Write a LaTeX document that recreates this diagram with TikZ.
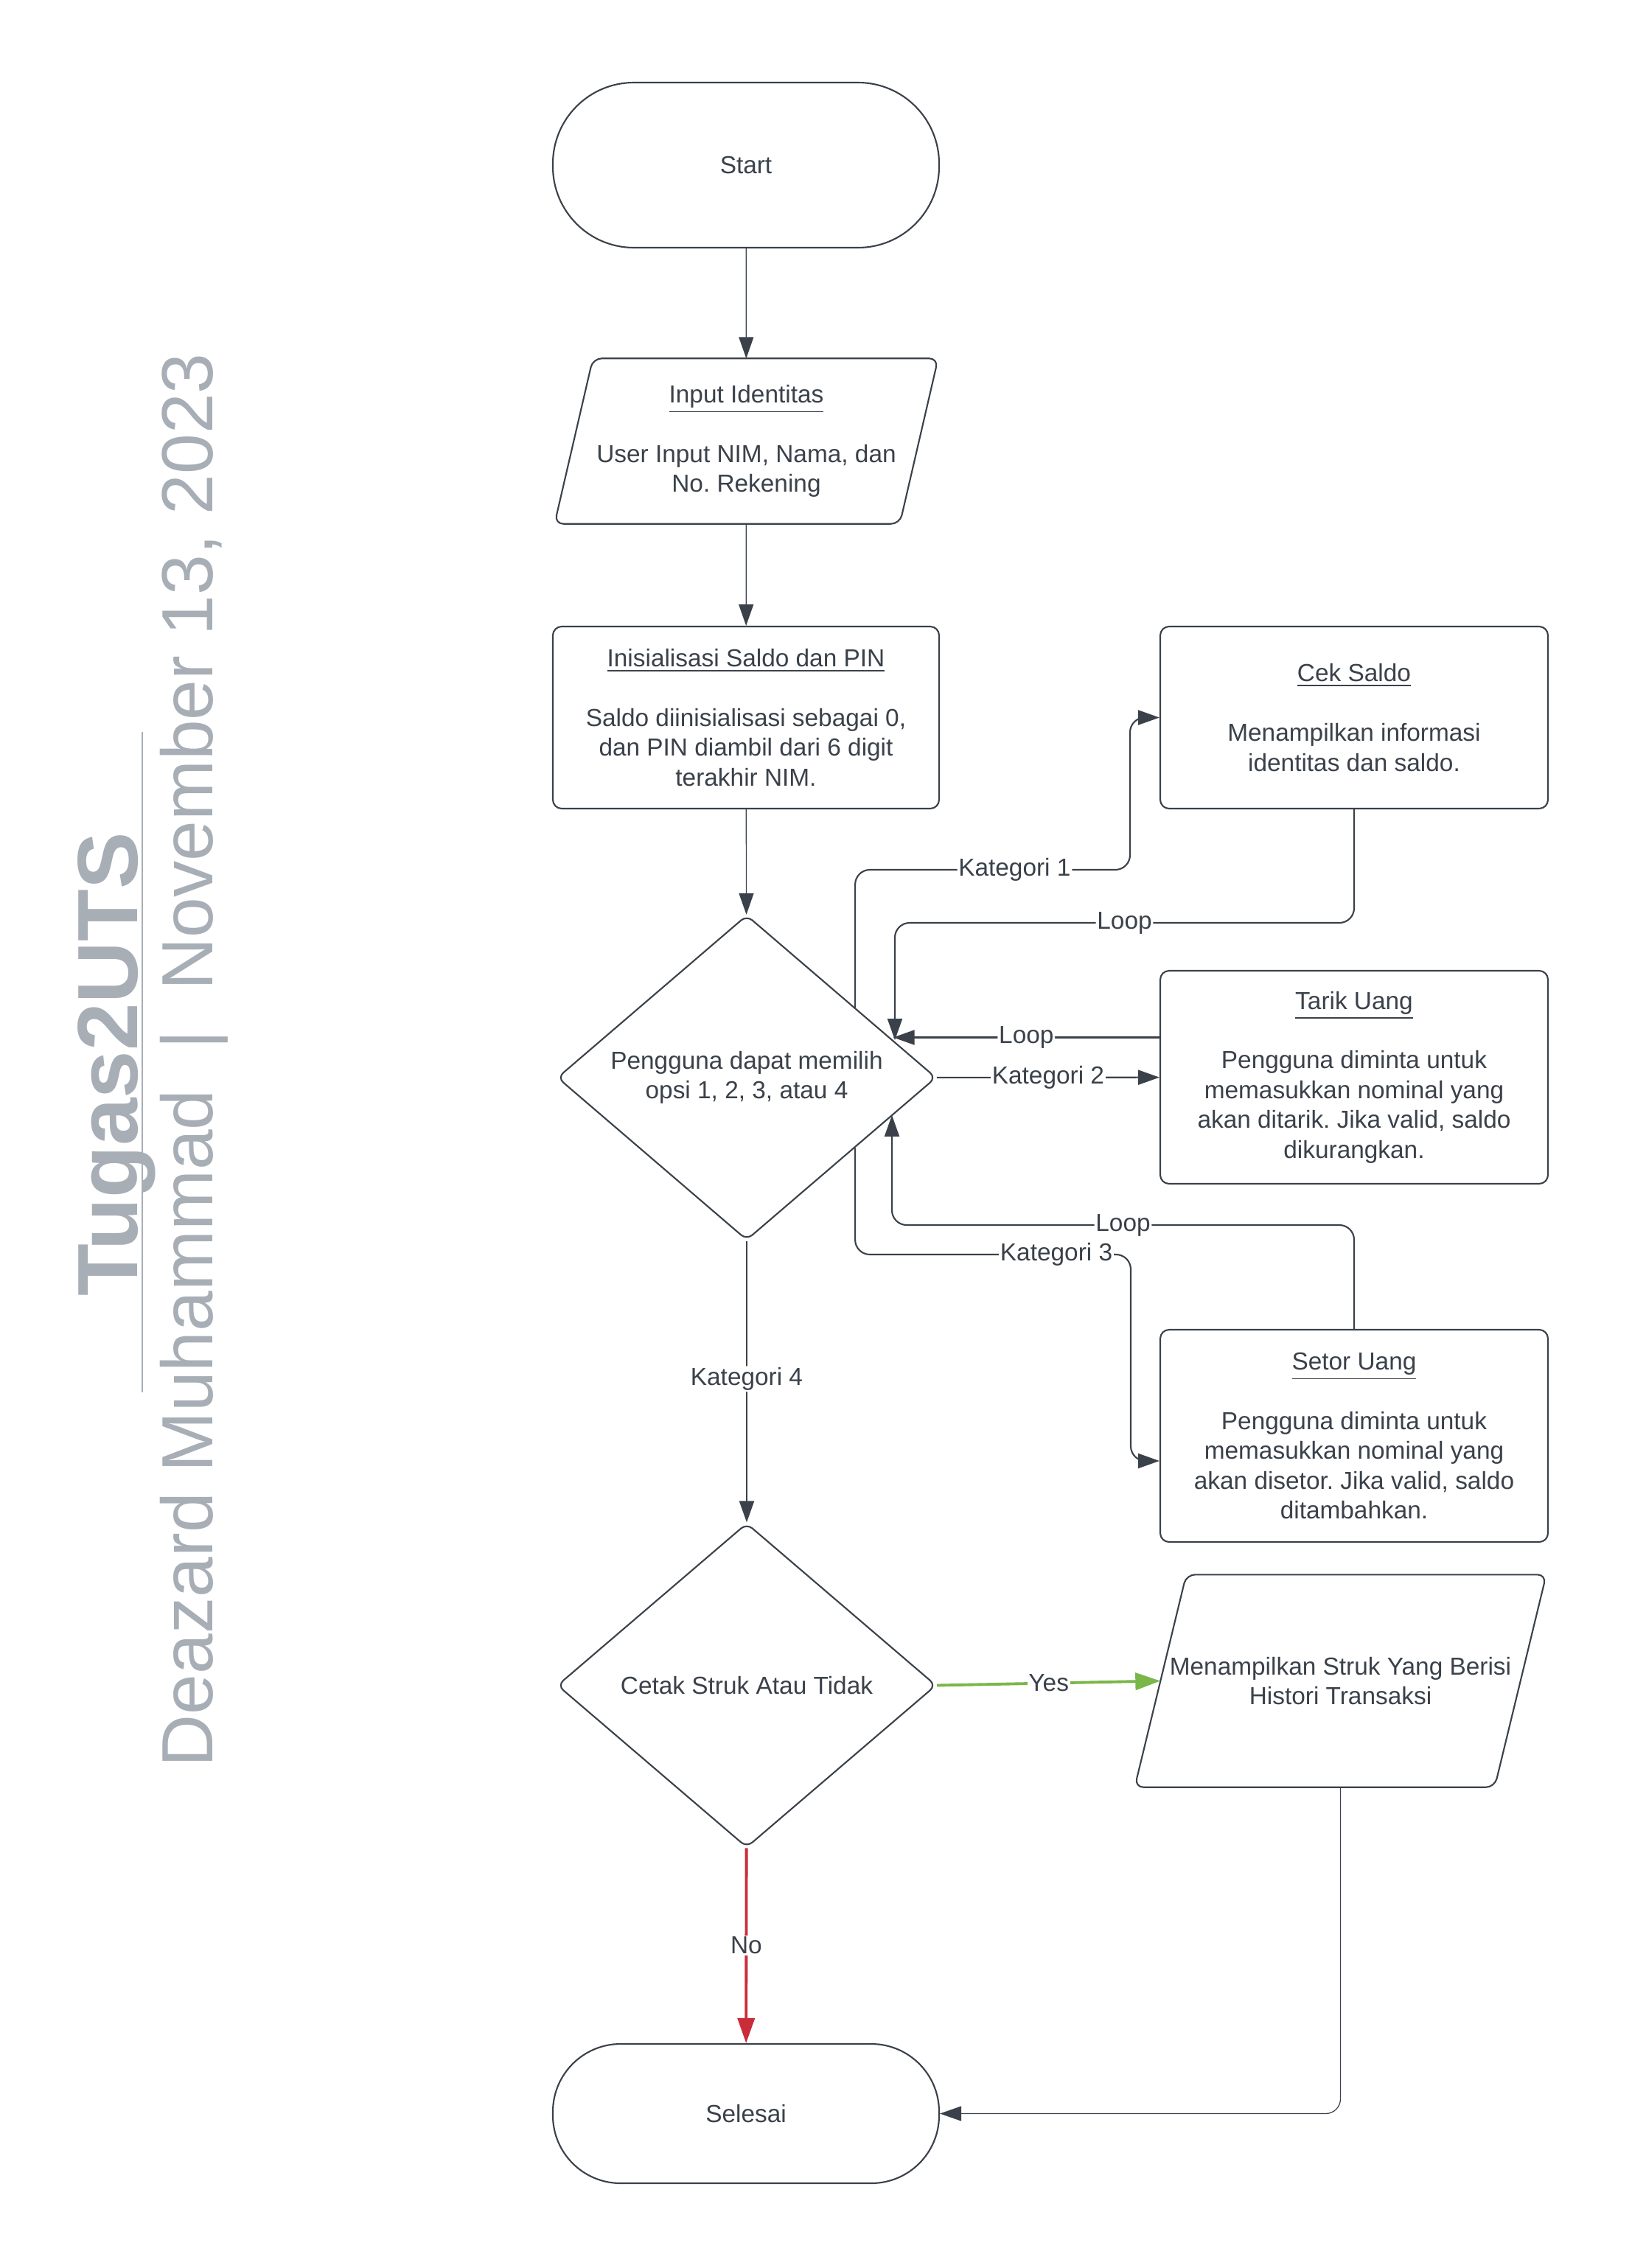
\documentclass[tikz,border=0pt]{standalone}
\usepackage{fontspec}
\setmainfont{Liberation Sans}
\frenchspacing
\usetikzlibrary{arrows.meta,calc,shapes.geometric}
\definecolor{ink}{HTML}{3A414A}
\definecolor{titlegray}{HTML}{A8AEB6}
\definecolor{yesgreen}{HTML}{7AB648}
\definecolor{nored}{HTML}{C92D39}
\newcommand\boxfont{\fontsize{9.5}{11.5}\selectfont}
\tikzset{
  base/.style={draw=ink,line width=0.6pt,fill=white,text=ink,font=\boxfont,align=center},
  term/.style={base,rectangle,minimum width=5.24cm,rounded corners=1.1cm},
  io/.style={rectangle,text=ink,font=\boxfont,align=center,inner sep=1pt},
  ioline/.style={draw=ink,line width=0.6pt,rounded corners=1.2mm},
  proc/.style={base,rectangle,rounded corners=1.2mm,minimum width=5.26cm},
  dec/.style={base,diamond,minimum width=5.14cm,minimum height=4.40cm,inner sep=0pt,rounded corners=1mm},
  conn/.style={draw=ink,line width=0.6pt,-{Triangle[length=2.9mm,width=2mm]},rounded corners=2mm},
  thinconn/.style={conn,line width=0.35pt},
  yesline/.style={draw=yesgreen,line width=1.1pt,-{Triangle[length=3.4mm,width=2.3mm]}},
  noline/.style={draw=nored,line width=1.1pt,-{Triangle[length=3.4mm,width=2.3mm]}},
  lbl/.style={fill=white,text=ink,font=\boxfont,inner sep=0.5pt},
}
\begin{document}
\begin{tikzpicture}
\useasboundingbox (0,0) rectangle (22.14,-30.77);
\node[rotate=90,anchor=base,text=titlegray,font=\fontsize{33}{38}\selectfont\bfseries] (title) at (1.86,-14.44) {Tugas2UTS};
\node[rotate=90,anchor=base,text=titlegray,font=\fontsize{28}{32}\selectfont] (subtitle) at (2.88,-14.38) {Deazard Muhammad~~|~~November 13, 2023};
\draw[titlegray,line width=0.85pt] (1.93,-9.93)--(1.93,-18.89);
\node[term,minimum height=2.24cm] (start) at (10.12,-2.24) {Start};
\node[io,minimum width=5.19cm,minimum height=2.23cm] (input) at (10.125,-5.985) {\underline{Input Identitas}\\[\baselineskip]User Input NIM, Nama, dan\\No. Rekening};
\draw[ioline] (input.south west)--($(input.north west)+(0.52,0)$)--(input.north east)--($(input.south east)+(-0.52,0)$)--cycle;
\node[proc,minimum width=5.24cm,minimum height=2.47cm] (init) at (10.12,-9.735) {\underline{Inisialisasi Saldo dan PIN}\\[\baselineskip]Saldo diinisialisasi sebagai 0,\\dan PIN diambil dari 6 digit\\terakhir NIM.};
\node[dec] (pilih) at (10.13,-14.62) {Pengguna dapat memilih\\opsi 1, 2, 3, atau 4};
\node[dec] (cetak) at (10.13,-22.865) {Cetak Struk Atau Tidak};
\node[term,minimum height=1.89cm,rounded corners=0.92cm] (selesai) at (10.12,-28.675) {Selesai};
\node[proc,minimum height=2.47cm] (cek) at (18.37,-9.735) {\underline{Cek Saldo}\\[\baselineskip]Menampilkan informasi\\identitas dan saldo.};
\node[proc,minimum height=2.89cm] (tarik) at (18.37,-14.615) {\underline{Tarik Uang}\\[\baselineskip]Pengguna diminta untuk\\memasukkan nominal yang\\akan ditarik. Jika valid, saldo\\dikurangkan.};
\node[proc,minimum height=2.88cm] (setor) at (18.37,-19.48) {\underline{Setor Uang}\\[\baselineskip]Pengguna diminta untuk\\memasukkan nominal yang\\akan disetor. Jika valid, saldo\\ditambahkan.};
\node[io,minimum width=5.57cm,minimum height=2.87cm] (struk) at (18.185,-22.805) {Menampilkan Struk Yang Berisi\\Histori Transaksi};
\draw[ioline] (struk.south west)--($(struk.north west)+(0.70,0)$)--(struk.north east)--($(struk.south east)+(-0.70,0)$)--cycle;
\coordinate (inputtop) at (input.north);
\coordinate (strukin) at ($(struk.west)+(0.35,0)$);
\coordinate (k1) at ($(pilih.north)!0.57!(pilih.east)$);
\coordinate (hitA) at ($(pilih.north)!0.77!(pilih.east)$);
\coordinate (hitB) at ($(pilih.east)!0.23!(pilih.south)$);
\coordinate (k3) at ($(pilih.east)!0.43!(pilih.south)$);
\coordinate (busA) at (15.33,-11.80);
\coordinate (loopA) at (12.14,-12.52);
\coordinate (loopB) at (12.10,-16.62);
\coordinate (busB) at (15.34,-17.02);
\coordinate (tarikout) at ($(tarik.west)+(0,0.54)$);
\coordinate (setorin) at ($(setor.west)+(0,-0.34)$);
\draw[thinconn] (start)--(input);
\draw[thinconn] (input)--(init);
\draw[thinconn] (init)--(pilih);
\draw[conn] (pilih)--node[lbl,pos=0.49]{Kategori 4}(cetak);
\draw[noline] (cetak)--node[lbl]{No}(selesai);
\draw[yesline] (cetak.east)--node[lbl]{Yes}(strukin);
\draw[thinconn] (struk.south)|-(selesai.east);
\draw[conn] (k1)|-node[lbl,pos=0.79]{Kategori 1}(busA)|-(cek.west);
\draw[conn] (cek.south)|-node[lbl,pos=0.75]{Loop}(loopA)--(loopA|-hitA);
\draw[conn] (tarikout)--node[lbl]{Loop}(tarikout-|hitA);
\draw[conn] (pilih)--node[lbl]{Kategori 2}(tarik);
\draw[conn] (setor.north)|-node[lbl,pos=0.75]{Loop}(loopB)--(loopB|-hitB);
\draw[conn] (k3)|-node[lbl,pos=0.865]{Kategori 3}(busB)|-(setorin);
\end{tikzpicture}
\end{document}
